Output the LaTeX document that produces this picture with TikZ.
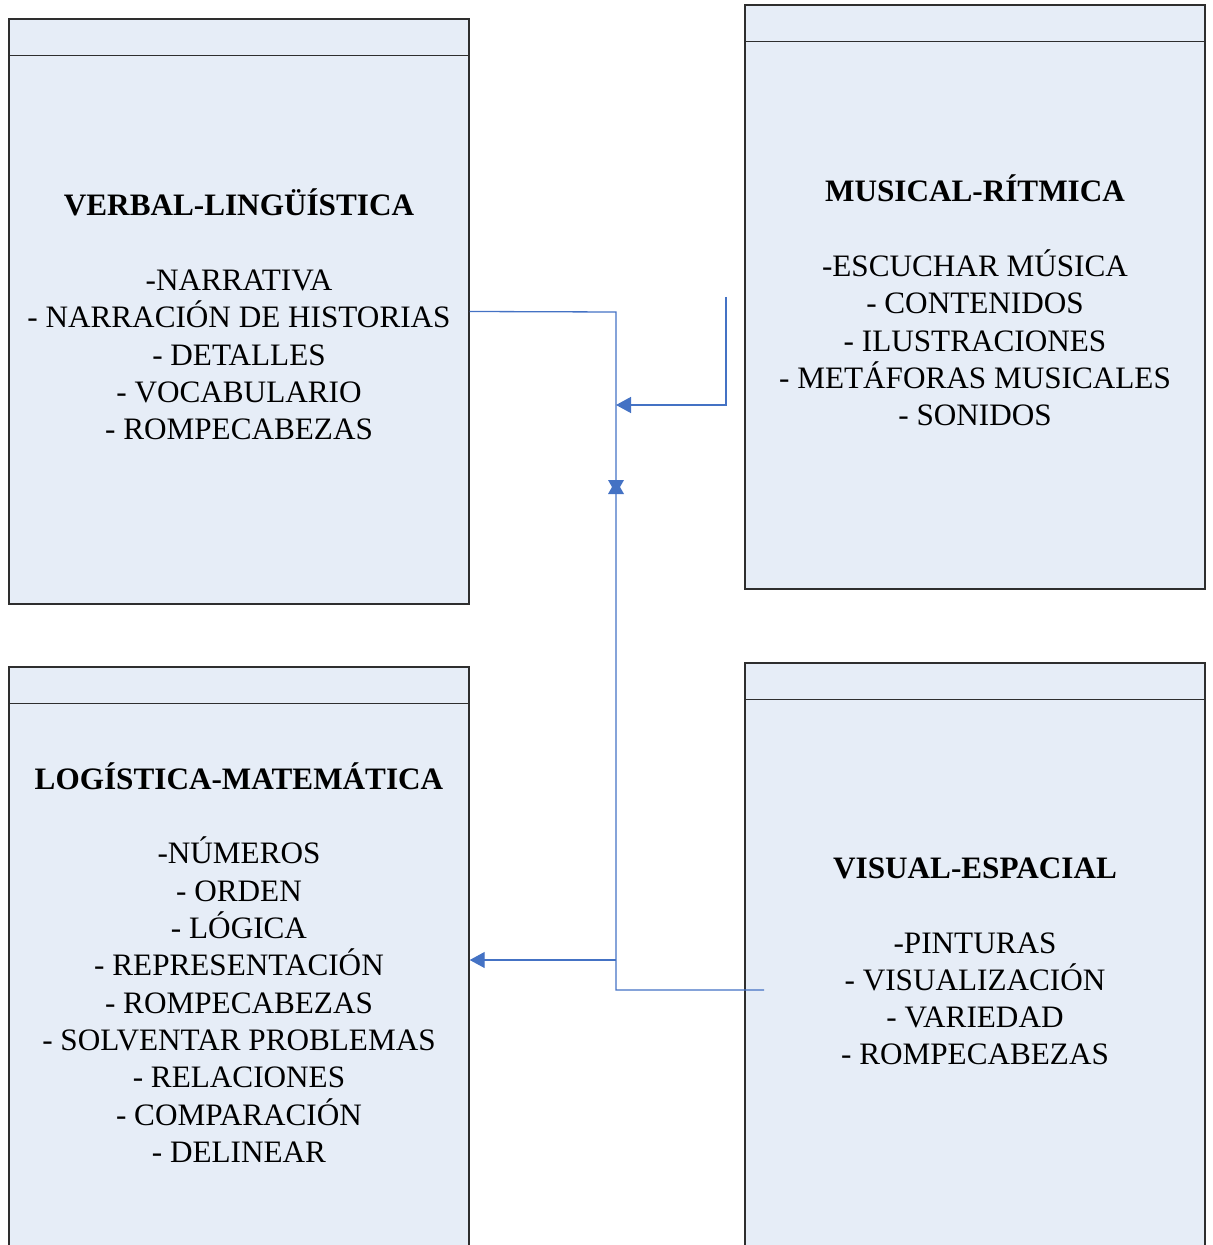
\documentclass[tikz,border=0pt]{standalone}
\usepackage{fontspec}
\setmainfont{Liberation Serif}
\usetikzlibrary{arrows.meta}
\definecolor{boxfill}{HTML}{E6EDF7}
\definecolor{boxline}{HTML}{2E2E2E}
\definecolor{conncol}{HTML}{4472C4}
\tikzset{
  box/.style={draw=boxline, fill=boxfill, line width=0.7pt, rectangle, inner sep=0pt},
  hdr/.style={draw=boxline, line width=0.7pt},
  txt/.style={align=center, inner sep=0pt, font=\fontsize{15.6}{18.65}\selectfont},
  conn/.style={draw=conncol, line width=0.65pt},
  tip/.style={-{Triangle[length=7.5pt,width=8pt]}},
}
\begin{document}
\begin{tikzpicture}[x=0.5pt,y=-0.5pt]
\useasboundingbox (0,0) rectangle (1212,1245);
\clip (0,0) rectangle (1212,1245);
% boxes
\node[box, minimum width=230pt, minimum height=292.5pt] (VL) at (239,311.5) {};
\node[box, minimum width=230pt, minimum height=292pt] (MR) at (975,297) {};
\node[box, minimum width=230pt, minimum height=316.5pt] (LM) at (239,983.5) {};
\node[box, minimum width=230pt, minimum height=318.5pt] (VE) at (975,981.5) {};
\draw[hdr] ([yshift=-18.5pt]VL.north west) -- ([yshift=-18.5pt]VL.north east);
\draw[hdr] ([yshift=-18.5pt]MR.north west) -- ([yshift=-18.5pt]MR.north east);
\draw[hdr] ([yshift=-18.5pt]LM.north west) -- ([yshift=-18.5pt]LM.north east);
\draw[hdr] ([yshift=-18.5pt]VE.north west) -- ([yshift=-18.5pt]VE.north east);
% texts
\node[txt] (VLt) at (239,314.5) {\textbf{VERBAL-LINGÜÍSTICA}\\[18.65pt]-NARRATIVA\\- NARRACIÓN DE HISTORIAS\\- DETALLES\\- VOCABULARIO\\- ROMPECABEZAS};
\node[txt] (MRt) at (975,300.5) {\textbf{MUSICAL-RÍTMICA}\\[18.65pt]-ESCUCHAR MÚSICA\\- CONTENIDOS\\- ILUSTRACIONES\\- METÁFORAS MUSICALES\\- SONIDOS};
\node[txt] (LMt) at (239,962.5) {\textbf{LOGÍSTICA-MATEMÁTICA}\\[18.65pt]-NÚMEROS\\- ORDEN\\- LÓGICA\\- REPRESENTACIÓN\\- ROMPECABEZAS\\- SOLVENTAR PROBLEMAS\\- RELACIONES\\- COMPARACIÓN\\- DELINEAR};
\node[txt] (VEt) at (975,961.5) {\textbf{VISUAL-ESPACIAL}\\[18.65pt]-PINTURAS\\- VISUALIZACIÓN\\- VARIEDAD\\- ROMPECABEZAS};
% connector points
\coordinate (bus) at (616,312);
\coordinate (busEnd) at (616,990);
\coordinate (veEnd) at (764,990);
\coordinate (tap) at (616,960);
\coordinate (mrStart) at (726,297);
\coordinate (mrIn) at (616,405);
\coordinate (mark) at (616,487);
% connectors
\draw[conn] (VL.east) -- (bus) -- (busEnd) -- (veEnd);
\draw[conn, tip] (tap) -- (LM.east |- tap);
\draw[conn, tip] (mrStart) |- (mrIn);
\fill[conncol] ([shift={(-8,-7)}]mark) -- ([shift={(8,-7)}]mark) -- ([shift={(4,0)}]mark) -- ([shift={(8,7)}]mark) -- ([shift={(-8,7)}]mark) -- ([shift={(-4,0)}]mark) -- cycle;
\end{tikzpicture}
\end{document}
